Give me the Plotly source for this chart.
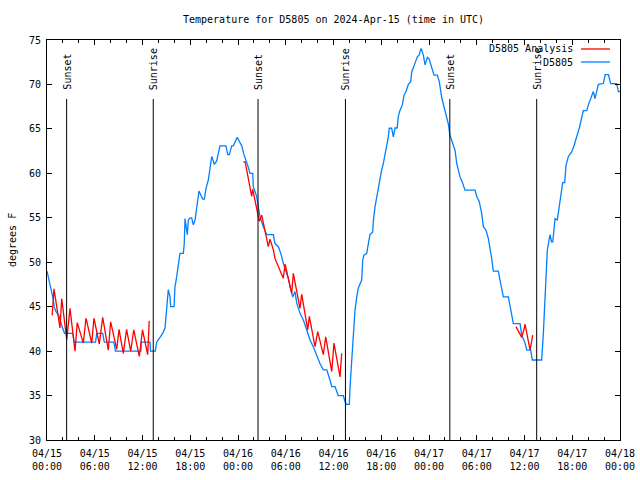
import pandas as pd
import plotly.graph_objects as go

START = pd.Timestamp("2024-04-15 00:00")

# Observed temperature (hours since 04/15 00:00 UTC, degrees F)
BLUE_HOURS = [
    0.0, 0.25, 0.5, 0.75, 0.9, 1.1, 1.5, 1.8, 2.2, 3.25, 3.4, 6.1, 6.25, 7.0, 7.2, 8.4, 8.6, 11.8, 11.85, 12.94, 13.0, 13.6,
    13.78, 14.2, 14.54, 14.83, 14.95, 15.12, 15.24, 15.46, 15.54, 15.96, 16.08, 16.3, 16.5, 16.71, 17.13, 17.25, 17.34, 17.47,
    17.63, 17.76, 17.97, 18.18, 18.38, 18.6, 18.81, 18.94, 19.1, 19.31, 19.57, 19.77, 19.98, 20.27, 20.48, 20.7, 20.82, 21.02,
    21.32, 21.53, 21.74, 22.49, 22.71, 22.91, 23.21, 23.41, 23.75, 23.91, 24.16, 24.47, 24.75, 25.01, 25.22, 25.51, 25.85,
    25.92, 26.35, 26.55, 26.77, 27.18, 27.61, 28.44, 28.65, 29.07, 29.37, 29.69, 30.03, 30.32, 30.54, 30.87, 31.16, 31.38,
    31.79, 32.21, 32.63, 33.05, 33.46, 33.89, 34.3, 34.72, 35.15, 35.56, 35.78, 36.19, 36.6, 37.23, 37.45, 37.66, 37.99,
    38.08, 38.29, 38.49, 38.7, 38.92, 39.12, 39.55, 39.67, 39.83, 40.17, 40.38, 40.59, 40.93, 41.0, 41.22, 41.43, 41.63,
    41.84, 42.05, 42.26, 42.47, 42.69, 42.89, 43.01, 43.31, 43.52, 43.73, 44.0, 44.14, 44.36, 44.65, 44.86, 45.11, 45.4,
    45.7, 45.83, 46.03, 46.24, 46.53, 46.75, 47.0, 47.29, 47.5, 47.79, 48.0, 48.34, 48.63, 49.05, 49.3, 49.6, 50.01, 50.42,
    50.63, 51.06, 51.27, 51.49, 51.9, 52.21, 52.52, 53.78, 54.0, 54.32, 54.62, 54.83, 55.16, 55.45, 55.67, 55.88, 56.08,
    56.71, 56.92, 57.14, 57.34, 57.97, 58.19, 58.39, 58.6, 59.44, 59.65, 59.85, 60.07, 60.28, 60.78, 60.98, 62.16, 62.37,
    62.58, 62.71, 62.87, 63.21, 63.4, 63.55, 63.84, 64.12, 64.38, 64.59, 64.8, 65.05, 65.22, 65.51, 65.93, 66.22, 66.56,
    66.89, 67.39, 67.82, 68.02, 68.44, 68.65, 68.86, 69.07, 69.28, 69.91, 70.13, 70.55, 70.83, 71.59, 71.8, 72.0,
]
BLUE_TEMPS = [
    49.0, 48.0, 47.0, 46.0, 45.0, 44.5, 44.0, 43.0, 42.0, 42.0, 41.0, 41.0, 42.0, 42.0, 41.0, 41.0, 40.0, 40.0, 41.0, 41.0, 40.0, 40.0,
    41.0, 41.5, 42.0, 42.6, 43.7, 45.0, 46.9, 46.1, 45.0, 45.0, 47.2, 48.4, 49.5, 51.0, 51.0, 52.1, 54.9, 54.0,
    53.1, 54.75, 55.0, 55.0, 54.2, 54.75, 56.25, 57.4, 58.0, 57.6, 57.1, 57.1, 58.3, 59.25, 60.4, 61.9, 61.6, 61.0,
    61.4, 62.3, 63.1, 63.1, 62.1, 62.1, 63.1, 63.1, 63.75, 64.05, 63.6, 63.1, 62.1, 61.5, 60.9, 60.0, 60.0,
    58.5, 57.4, 56.25, 55.1, 54.0, 53.1, 53.1, 52.1, 51.75, 51.0, 49.9, 49.1, 48.2, 47.25, 46.1, 46.7, 45.4,
    44.25, 43.5, 42.4, 41.25, 40.5, 39.4, 38.6, 37.9, 37.9, 36.75, 36.0, 36.0, 35.0, 35.0, 34.3, 34.0, 34.0,
    36.0, 39.0, 42.4, 44.6, 46.1, 47.1, 48.0, 50.25, 50.8, 51.0, 52.1, 53.1, 53.4, 54.6, 56.25, 57.4, 58.5,
    59.6, 60.4, 61.1, 62.1, 63.0, 64.1, 65.07, 65.07, 64.1, 65.1, 65.1, 66.4, 67.1, 67.7, 68.8, 69.2, 70.0,
    70.3, 71.4, 72.0, 72.4, 73.1, 73.3, 74.06, 73.3, 72.2, 73.05, 72.9, 71.8, 71.05, 71.05, 70.3, 68.5, 67.1, 65.6,
    64.3, 63.0, 62.6, 61.1, 59.6, 58.95, 58.1, 58.1, 57.4, 56.8, 55.5, 54.0, 53.6, 52.7, 51.6, 50.4, 49.0,
    49.0, 48.0, 47.1, 46.1, 46.1, 45.0, 43.9, 43.1, 43.1, 41.75, 41.4, 40.9, 40.1, 40.1, 39.0, 39.0, 42.0,
    45.75, 47.25, 51.4, 53.1, 52.3, 52.3, 54.9, 54.75, 56.6, 58.1, 58.95, 58.95, 60.9, 61.9, 62.4, 63.1, 64.1,
    65.1, 67.05, 67.05, 67.7, 68.8, 69.2, 68.4, 69.4, 70.0, 70.1, 71.1, 71.1, 70.1, 70.1, 69.2, 69.2,
]

# Analysis (three separate runs)
RED1_HOURS = [0.65, 0.88, 1.63, 1.85, 2.48, 2.89, 3.52, 3.8, 4.56, 4.9, 5.62, 5.9, 6.57, 7.0, 7.7, 8.0,
              8.76, 9.05, 9.59, 10.0, 10.52, 10.9, 11.6, 12.0, 12.65, 12.85]
RED1_TEMPS = [44.0, 47.0, 42.6, 45.9, 41.3, 44.8, 40.0, 43.2, 40.9, 43.7, 40.9, 43.7, 40.8, 43.8, 40.1, 43.3,
              40.2, 42.45, 39.75, 42.45, 40.0, 42.4, 39.4, 42.4, 39.6, 43.4]
RED2_HOURS = [24.67, 24.9, 25.72, 25.85, 26.68, 26.98, 27.81, 28.02, 28.44, 28.65, 29.69, 29.91, 30.75, 30.95,
              31.79, 32.0, 32.76, 32.96, 33.68, 34.02, 34.72, 35.02, 35.78, 36.06, 36.82, 37.03]
RED2_TEMPS = [61.3, 61.3, 57.4, 58.2, 54.6, 55.3, 51.75, 52.6, 51.4, 50.4, 48.2, 49.8, 46.5, 48.75,
              44.8, 46.4, 42.4, 43.9, 40.5, 42.2, 39.6, 41.6, 37.7, 40.9, 37.1, 39.75]
RED3_HOURS = [58.93, 59.65, 59.98, 60.07, 60.7, 61.03]
RED3_TEMPS = [42.75, 41.55, 42.6, 43.05, 40.1, 41.8]

SUN_TIMES = ["2024-04-15 02:28", "2024-04-15 13:21", "2024-04-16 02:31",
             "2024-04-16 13:30", "2024-04-17 02:37", "2024-04-17 13:32"]
SUN_LABELS = ["Sunset", "Sunrise", "Sunset", "Sunrise", "Sunset", "Sunrise"]

TICK_TIMES = pd.date_range("2024-04-15", "2024-04-18", freq="6h")
TICK_TEXT = [t.strftime("%m/%d") + "<br>" + t.strftime("%H:%M") for t in TICK_TIMES]

TITLE = "Temperature for D5805 on 2024-Apr-15 (time in UTC)"
FONT = "DejaVu Sans Mono"
BLUE = "rgb(0,128,255)"
RED = "rgb(255,0,0)"


def to_time(hours):
    return [START + pd.Timedelta(hours=h) for h in hours]


red_x = to_time(RED1_HOURS) + [None] + to_time(RED2_HOURS) + [None] + to_time(RED3_HOURS)
red_y = RED1_TEMPS + [None] + RED2_TEMPS + [None] + RED3_TEMPS

fig = go.Figure()
fig.add_trace(go.Scatter(x=to_time(BLUE_HOURS), y=BLUE_TEMPS, mode="lines", name="D5805",
                         line=dict(color=BLUE, width=1.3), connectgaps=False))
fig.add_trace(go.Scatter(x=red_x, y=red_y, mode="lines", name="D5805 Analysis",
                         line=dict(color=RED, width=1.3), connectgaps=False))

# plot area in pixels: x 47..620, y 40..440
L, R, T, B = 47, 620, 40, 440
W, H = 640, 480
def px_x(p):
    return (p - L) / (R - L)
def px_y(p):
    return (B - p) / (B - T)

LINE_TOP = 75 - (99 - T) * 45 / (B - T)
LABEL_BOTTOM = 75 - (92 - T) * 45 / (B - T)

for t, lab in zip(SUN_TIMES, SUN_LABELS):
    fig.add_shape(type="line", xref="x", yref="y", x0=t, x1=t, y0=30, y1=LINE_TOP,
                  line=dict(color="black", width=1))
    fig.add_annotation(x=t, y=LABEL_BOTTOM, xref="x", yref="y", text=lab, textangle=-90,
                       showarrow=False, xanchor="center", yanchor="bottom",
                       font=dict(family=FONT, size=10, color="black"))

# gnuplot-style key: text right-aligned, sample line to the right
for name, color, ypx in [("D5805 Analysis", RED, 49), ("D5805", BLUE, 62)]:
    fig.add_annotation(x=px_x(575), y=px_y(ypx), xref="paper", yref="paper", text=name,
                       showarrow=False, xanchor="right", yanchor="middle",
                       font=dict(family=FONT, size=10, color="black"))
    fig.add_shape(type="line", xref="paper", yref="paper", x0=px_x(581), x1=px_x(610),
                  y0=px_y(ypx), y1=px_y(ypx), line=dict(color=color, width=1.3))

fig.add_annotation(x=px_x(12), y=0.5, xref="paper", yref="paper", text="degrees F", textangle=-90,
                   showarrow=False, xanchor="center", yanchor="middle",
                   font=dict(family=FONT, size=10, color="black"))
fig.add_annotation(x=0.5, y=px_y(20), xref="paper", yref="paper", text=TITLE,
                   showarrow=False, xanchor="center", yanchor="middle",
                   font=dict(family=FONT, size=10, color="black"))

fig.update_layout(
    width=W, height=H,
    margin=dict(l=L, r=W - R, t=T, b=H - B, autoexpand=False),
    paper_bgcolor="white", plot_bgcolor="white",
    showlegend=False,
    font=dict(family=FONT, size=10, color="black"),
    xaxis=dict(range=[TICK_TIMES[0], TICK_TIMES[-1]], tickvals=TICK_TIMES, ticktext=TICK_TEXT,
               ticks="inside", ticklen=5, tickcolor="black", showline=True, linecolor="black",
               linewidth=1, mirror="ticks", showgrid=False, zeroline=False, automargin=False,
               ticklabelstandoff=4,
               minor=dict(dtick=2 * 3600 * 1000, ticks="inside", ticklen=3, tickcolor="black", showgrid=False),
               tickfont=dict(family=FONT, size=10)),
    yaxis=dict(range=[30, 75], dtick=5, tick0=30, ticks="inside", ticklen=5, tickcolor="black",
               showline=True, linecolor="black", linewidth=1, mirror="ticks", showgrid=False,
               zeroline=False, automargin=False, ticklabelstandoff=3,
               tickfont=dict(family=FONT, size=10)),
)

fig.write_html("out.html", config={"displayModeBar": False},
               post_script="document.body.style.margin='0px';")
